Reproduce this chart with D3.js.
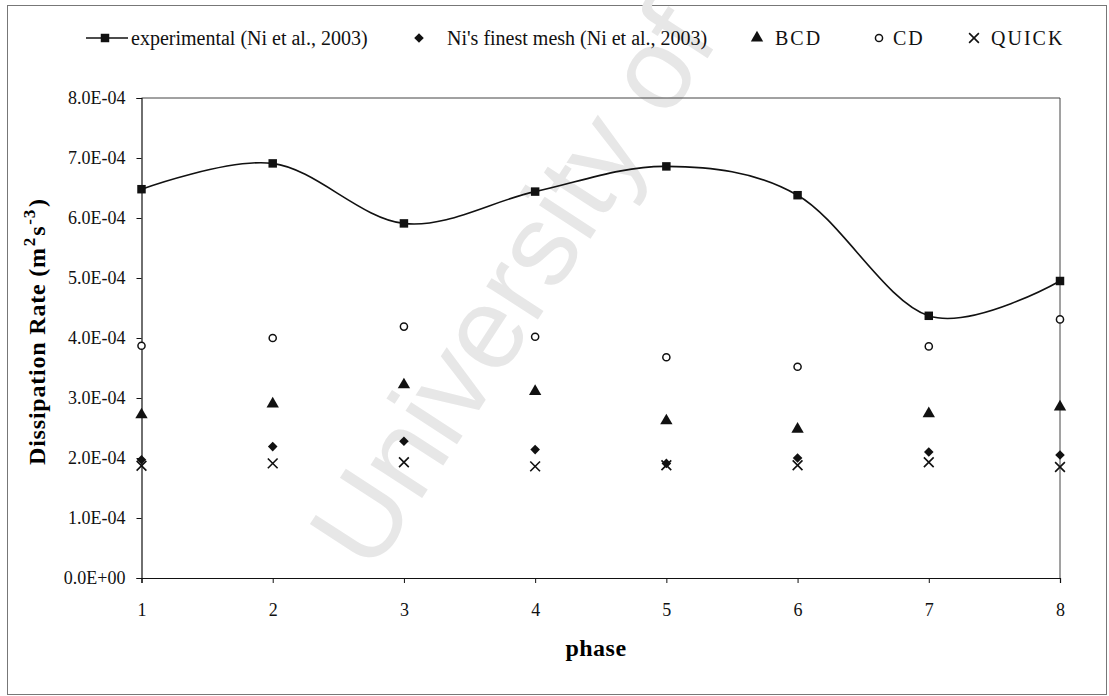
<!DOCTYPE html>
<html>
<head>
<meta charset="utf-8">
<script src="https://cdn.jsdelivr.net/npm/d3@7"></script>
<style>
  body { margin: 0; background: #fff; }
  svg { display: block; font-family: "Liberation Serif", "Times New Roman", serif; }
</style>
</head>
<body>
<div id="chart"></div>
<script>
// values (units 1E-04 m^2 s^-3)
let phases = [1, 2, 3, 4, 5, 6, 7, 8];
let experimental = [6.48, 6.91, 5.91, 6.44, 6.86, 6.38, 4.37, 4.95];
let niMesh = [1.97, 2.19, 2.28, 2.14, 1.91, 2.00, 2.10, 2.05];
let bcd = [2.72, 2.90, 3.22, 3.11, 2.62, 2.48, 2.74, 2.85];
let cd = [3.87, 4.00, 4.19, 4.02, 3.68, 3.52, 3.86, 4.31];
let quick = [1.87, 1.91, 1.93, 1.86, 1.88, 1.88, 1.93, 1.85];
let yTicks = [0, 1, 2, 3, 4, 5, 6, 7, 8];
let legendLabels = ["experimental (Ni et al., 2003)", "Ni's finest mesh (Ni et al., 2003)", "BCD", "CD", "QUICK"];

let width = 1109, height = 696;

let svg = d3.select("#chart").append("svg")
  .attr("width", width)
  .attr("height", height);

// outer frame
svg.append("rect")
  .attr("x", 7.5).attr("y", 5.5)
  .attr("width", 1099).attr("height", 689)
  .attr("fill", "none").attr("stroke", "#777").attr("stroke-width", 1);

// watermark
svg.append("text")
  .attr("transform", "translate(372,575) rotate(-57)")
  .attr("font-family", "'Liberation Sans', Arial, sans-serif")
  .attr("font-size", 116)
  .attr("fill", "#e7e7e7")
  .text("University of Cape Town");

let x = d3.scaleLinear().domain([1, 8]).range([141.5, 1060]);
let y = d3.scaleLinear().domain([0, 8]).range([578, 98]);

let g = svg.append('g');

// plot area border (top + right)
g.append("path")
  .attr("d", `M${x(1)},${y(8)}H${x(8)}V${y(0)}`)
  .attr("fill", "none").attr("stroke", "#444").attr("stroke-width", 1);

let fmt = d => d === 0 ? "0.0E+00" : d.toFixed(1) + "E-04";

let yAxis = g.append("g")
  .attr("transform", `translate(${x(1)},0)`)
  .call(d3.axisLeft(y).tickValues(yTicks).tickFormat(fmt).tickSize(5).tickPadding(11));

let xAxis = g.append("g")
  .attr("transform", `translate(0,${y(0)})`)
  .call(d3.axisBottom(x).tickValues(phases).tickFormat(d3.format("d")).tickSize(5).tickPadding(20));

[yAxis, xAxis].forEach(a => {
  a.select(".domain").attr("stroke", "#111").attr("stroke-width", 1.2);
  a.selectAll(".tick line").attr("stroke", "#111");
  a.selectAll("text").attr("font-family", "'Liberation Serif', 'Times New Roman', serif")
    .attr("font-size", 18).attr("fill", "#111");
});

// axis titles
svg.append("text")
  .attr("x", 596).attr("y", 656)
  .attr("text-anchor", "middle")
  .attr("font-size", 24).attr("font-weight", "bold")
  .attr("letter-spacing", 0.5)
  .text("phase");

let yTitle = svg.append("text")
  .attr("transform", "translate(45,465) rotate(-90)")
  .attr("text-anchor", "start")
  .attr("font-size", 24).attr("font-weight", "bold")
  .attr("letter-spacing", 0.8);
yTitle.append("tspan").text("Dissipation Rate (m");
yTitle.append("tspan").attr("dx", 1).attr("dy", -10).attr("font-size", 17).text("2");
yTitle.append("tspan").attr("dx", 1).attr("dy", 10).text("s");
yTitle.append("tspan").attr("dx", 1).attr("dy", -10).attr("font-size", 17).text("-3");
yTitle.append("tspan").attr("dx", 2).attr("dy", 10).text(")");

// marker drawing helpers
let symSquare = d3.symbol().type(d3.symbolSquare).size(72);
let symDiamond = d3.symbol().type(d3.symbolSquare).size(46);
let symTriangle = d3.symbol().type(d3.symbolTriangle).size(66);
let symCircle = d3.symbol().type(d3.symbolCircle).size(40);
let symCross = d3.symbol().type(d3.symbolX).size(64);

function drawMarker(sel, kind) {
  if (kind === 0) sel.attr("d", symSquare).attr("fill", "#111");
  if (kind === 1) sel.attr("d", symDiamond).attr("fill", "#111")
    .attr("transform", function() { return d3.select(this).attr("transform") + " rotate(45)"; });
  if (kind === 2) sel.attr("d", symTriangle).attr("fill", "#111");
  if (kind === 3) sel.attr("d", symCircle).attr("fill", "#fff").attr("stroke", "#111").attr("stroke-width", 1.5);
  if (kind === 4) sel.attr("d", symCross).attr("fill", "none").attr("stroke", "#111").attr("stroke-width", 1.6);
}

let series = [experimental, niMesh, bcd, cd, quick];

// smoothed experimental line
let line = d3.line()
  .x((d, i) => x(phases[i]))
  .y(d => y(d))
  .curve(d3.curveCatmullRom.alpha(0));

g.append("path")
  .datum(experimental)
  .attr("d", line)
  .attr("fill", "none")
  .attr("stroke", "#111")
  .attr("stroke-width", 1.6);

series.forEach(function(vals, k) {
  g.selectAll(".m" + k)
    .data(vals)
    .enter().append("path")
    .attr("class", "m" + k)
    .attr("transform", (d, i) => `translate(${x(phases[i])},${y(d)})`)
    .call(drawMarker, k);
});

// legend
let legendY = 38;
let legendSymX = [105, 419, 757, 879, 974];
let legendTextX = [131, 447, 775, 893, 991];
let legend = svg.append("g");
legend.append("line")
  .attr("x1", 86).attr("x2", 128)
  .attr("y1", legendY).attr("y2", legendY)
  .attr("stroke", "#111").attr("stroke-width", 1.6);
legendLabels.forEach(function(lbl, k) {
  legend.append("path")
    .attr("transform", `translate(${legendSymX[k]},${legendY})`)
    .call(drawMarker, k);
  legend.append("text")
    .attr("x", legendTextX[k])
    .attr("y", legendY + 7)
    .attr("font-size", 20)
    .attr("letter-spacing", k >= 2 ? 2 : 0)
    .attr("fill", "#111")
    .text(lbl);
});
</script>
</body>
</html>
